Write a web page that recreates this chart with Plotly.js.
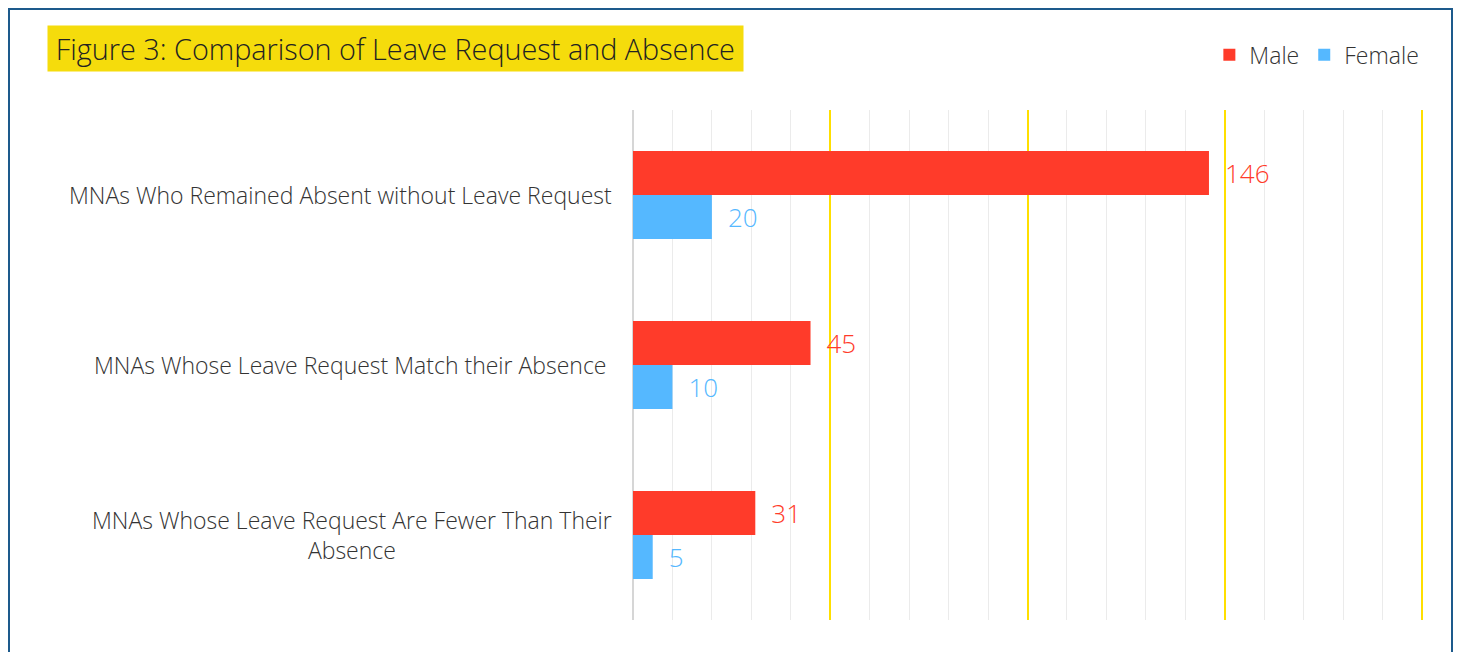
<!DOCTYPE html>
<html>
<head>
<meta charset="utf-8">
<script src="https://cdn.plot.ly/plotly-3.0.1.min.js"></script>
<style>
  html, body { margin: 0; padding: 0; background: #ffffff; overflow: hidden; }
  #chart { width: 1458px; height: 652px; }
  #frame { position: absolute; left: 8px; top: 8px; width: 1441px; height: 700px;
           border: 2px solid #1d5a8c; pointer-events: none; }
</style>
</head>
<body>
<div id="chart"></div>
<div id="frame"></div>
<script>
const categories = [
  "MNAs Who Remained Absent without Leave Request",
  "MNAs Whose Leave Request Match their Absence ",
  "MNAs Whose Leave Request Are Fewer Than Their<br>Absence"
];
const maleValues = [146, 45, 31];
const femaleValues = [20, 10, 5];
const seriesNames = ["Male", "Female"];
const xRange = [0, 200];
const titleText = "Figure 3: Comparison of Leave Request and Absence";

const red = "#ff3b2a";
const blue = "#55b8ff";
const yellow = "#ffdf00";
const font = "'Open Sans', Lato, sans-serif";

const traces = [
  {
    type: "bar", orientation: "h", name: seriesNames[0],
    y: categories, x: maleValues,
    marker: { color: red },
    text: maleValues.map(String),
    texttemplate: "\u2002%{text}",
    textposition: "outside", cliponaxis: false, constraintext: "none",
    textfont: { color: red, size: 26, family: font, weight: 300 },
    hoverinfo: "x+name"
  },
  {
    type: "bar", orientation: "h", name: seriesNames[1],
    y: categories, x: femaleValues,
    marker: { color: blue },
    text: femaleValues.map(String),
    texttemplate: "\u2002%{text}",
    textposition: "outside", cliponaxis: false, constraintext: "none",
    textfont: { color: blue, size: 26, family: font, weight: 300 },
    hoverinfo: "x+name"
  }
];

const labelAnnotations = categories.map(c => ({
  text: c, xref: "paper", yref: "y",
  x: -0.024, xanchor: "right", y: c, yanchor: "middle",
  align: "center", showarrow: false,
  font: { size: 23, color: "#333333", family: font, weight: 300 }
}));

const layout = {
  width: 1458, height: 652,
  margin: { l: 633, r: 36, t: 110, b: 32 },
  paper_bgcolor: "#ffffff", plot_bgcolor: "#ffffff",
  font: { family: font, color: "#333333" },
  barmode: "group",
  bargap: 0.482,
  bargroupgap: 0,
  xaxis: {
    range: xRange, dtick: 50, tick0: 0,
    showgrid: true, gridcolor: yellow, gridwidth: 2,
    minor: { dtick: 10, showgrid: true, gridcolor: "#ebebeb", gridwidth: 1, ticks: "" },
    showticklabels: false, ticks: "",
    zeroline: true, zerolinecolor: "#d6d6d6", zerolinewidth: 2,
    showline: false, fixedrange: true
  },
  yaxis: {
    autorange: "reversed",
    ticks: "", showticklabels: false,
    showgrid: false, zeroline: false, showline: false,
    automargin: false
  },
  shapes: [
    { type: "line", xref: "paper", yref: "paper", x0: 1, x1: 1, y0: 0, y1: 1,
      line: { color: yellow, width: 2 }, layer: "above" }
  ],
  showlegend: true,
  legend: {
    orientation: "h", x: 1.003, xanchor: "right", y: 1.108, yanchor: "middle",
    font: { size: 23, color: "#333333", family: font, weight: 300 },
    traceorder: "normal", itemwidth: 30
  },
  annotations: [
    {
      text: "\u2009" + titleText + "\u2009", xref: "paper", yref: "paper",
      x: -0.743, xanchor: "left", y: 1.12, yanchor: "middle",
      showarrow: false, bgcolor: "#f5dc0c", borderpad: 3,
      font: { size: 28.8, color: "#222222", family: font, weight: 300 }
    }
  ].concat(labelAnnotations)
};

Plotly.newPlot("chart", traces, layout, { displayModeBar: false, responsive: false });
</script>
</body>
</html>
